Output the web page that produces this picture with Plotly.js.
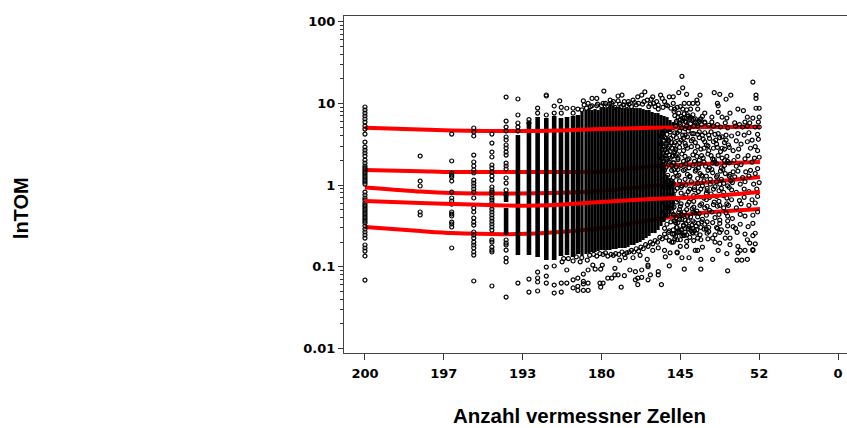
<!DOCTYPE html>
<html><head><meta charset="utf-8">
<script src="https://cdn.plot.ly/plotly-3.0.1.min.js"></script>
<style>html,body{margin:0;padding:0;background:#fff}#c{width:847px;height:428px}</style>
</head><body><div id="c"></div>
<script>
// x = ordinal position on the "Anzahl vermessner Zellen" scale, y = log10(TOM)
const xTickPos=[0,1,2,3,4,5,6];
const xTickText=['200','197','193','180','145','52','0'];
const yTickVals=[100,10,1,0.1,0.01];
const yTickText=['100','10','1','0.1','0.01'];
const yMinor=[2,3,4,5,6,7,8,9,20,30,40,50,60,70,80,90,0.2,0.3,0.4,0.5,0.6,0.7,0.8,0.9,0.02,0.03,0.04,0.05,0.06,0.07,0.08,0.09];

const lineX=[0,0.70,1.10,1.94,2.47,2.99,3.62,4.25,5.01];
const q95=[0.70,0.68,0.667,0.66,0.667,0.685,0.70,0.71,0.71];
const q75=[0.184,0.17,0.159,0.159,0.16,0.165,0.225,0.257,0.282];
const q50=[-0.03,-0.08,-0.098,-0.104,-0.095,-0.073,-0.012,0.024,0.098];
const q25=[-0.196,-0.22,-0.233,-0.253,-0.24,-0.208,-0.171,-0.147,-0.086];
const q05=[-0.514,-0.563,-0.588,-0.600,-0.575,-0.53,-0.43,-0.343,-0.294];

const colRanks=[0,0.70,1.10,1.38,1.61,1.79,1.94,2.08,2.19,2.30,2.40];
const colLogs=[
[.955,.918,.881,.845,.808,.771,.722,.685,.624,.526,.465,.428,.392,.355,.306,.269,.233,.208,.184,.159,.135,.110,.086,.061,.037,.012,-.086,-.122,-.159,-.184,-.220,-.245,-.269,-.294,-.318,-.343,-.367,-.392,-.416,-.441,-.465,-.502,-.539,-.575,-.612,-.649,-.734,-.771,-.808,-.869,-1.163],
[.355,.049,-.012,-.33,-.367],
[.624,.294,.147,.122,.098,.049,-.086,-.159,-.196,-.233,-.33,-.355,-.379,-.453,-.477,-.514,-.771],
[.698,.649,.6,.367,.282,.233,.184,.147,.061,.024,-.012,-.049,-.086,-.159,-.282,-.33,-.404,-.453,-.49,-.575,-.612,-.649,-.698,-.734,-.771,-.82,-.857,-1.175],
[.624,.514,.404,.343,.245,.208,.159,.11,.061,-.024,-.061,-.086,-.122,-.159,-.184,-.22,-.257,-.294,-.33,-.367,-.404,-.441,-.477,-.514,-.551,-.673,-.698,-.759,-.796,-.82,-1.236],
[1.077,.783,.71,.661,.588,.551,.49,.453,.404,.367,.269,.233,.196,.086,.024,-.061,-.122,-.673,-.71,-.734,-.796,-.894,-.942,-1.371],
[1.053,.857,.759,.71,.661,-1.2],
[.80,.76,-1.151,-1.31],
[.942,.881,-1.065,-1.138,-1.187,-1.297],
[1.102,1.09,.857,-1.004,-1.114,-1.2],
[.967,.881,-.991,-1.224,-1.322]
];

const stripeRanks=[1.79,1.79,1.94,2.08,2.19,2.30,2.40,2.486,2.563,2.639,2.702,2.753,2.803,2.842,2.880,2.918,2.956,2.994,3.032,3.070,3.108,3.146,3.184,3.222,3.260,3.298,3.336,3.374,3.412,3.450,3.489,3.527,3.565,3.603,3.641,3.679,3.717,3.755,3.793,3.793,3.831,3.831,3.869,3.869,3.907,3.907];
const stripeHi=[-.086,-.282,.612,.771,.832,.82,.845,.82,.832,.845,.857,.894,.918,.93,.918,.93,.918,.942,.955,.942,.967,.967,.955,.955,.942,.942,.942,.942,.942,.942,.942,.93,.918,.918,.894,.881,.881,.857,.845,.245,.832,.122,.796,.086,.771,.061];
const stripeLo=[-.208,-.612,-.857,-.857,-.881,-.918,-.918,-.869,-.857,-.881,-.845,-.869,-.845,-.832,-.82,-.82,-.808,-.796,-.796,-.796,-.796,-.783,-.783,-.771,-.771,-.771,-.759,-.734,-.734,-.71,-.698,-.673,-.649,-.624,-.588,-.588,-.551,-.502,.612,-.453,.636,-.404,.649,-.355,.673,-.306];

const topX=[4.02,4.03,3.98,4.08,3.91,3.86,3.55,3.03,3.26,3.21,2.94,2.88,2.77,2.47,3.51,3.46,3.40,3.65,3.75,3.77,3.11,3.21,3.29,3.34,3.02,2.83,2.88,2.94,3.13,3.58,3.63,3.70,3.80,3.91,4.05,4.11,4.16,4.22,2.56,2.64,2.70,2.49,2.64,2.49,2.78,3.08,3.17,3.25,3.32,3.38,3.44,3.52,3.60,3.68,3.72,3.78,3.84,3.88,3.93,3.96,4.00,4.03,2.95,3.00,3.05,3.10,3.15,3.23,3.28,3.35,3.42,3.47,3.54,3.62,3.66,3.72,3.82,2.86,2.81,2.75];
const topY=[1.33,1.19,1.13,1.11,1.08,1.08,1.14,1.15,1.10,1.09,1.06,1.06,1.03,1.03,1.10,1.08,1.04,1.08,1.10,1.06,1.04,1.03,1.02,1.02,1.00,1.00,.97,.97,1.00,1.04,1.05,1.02,1.02,1.00,1.00,1.00,1.00,1.00,.94,.94,.93,.95,.88,.88,.98,.97,.95,.96,.97,.96,.98,.99,.96,.96,.93,.95,.97,.94,.93,.95,.96,.93,.99,.97,1.00,.99,1.02,.99,.98,.99,1.01,1.00,1.02,.99,1.00,.98,.98,.96,.94,.92];

const rightX=[4.92,4.25,4.43,4.50,4.64,4.58,4.96,4.96,4.21,4.47,4.48,4.73,4.80,4.96,5.00,4.48,4.63,4.13,4.08,4.22,4.31,4.28,4.16,4.40,4.53,4.59,4.85,4.92,5.00,4.99,4.40,4.31,4.19,4.25,4.12,4.03,4.57,4.69,4.82,4.88,4.60,4.95,
3.92,3.98,4.05,4.10,4.00,4.06,3.95,4.13,4.08,4.17,4.02,4.22,4.27,4.36,4.42,4.47,4.51,4.75,4.79,4.85,5.00,4.70,
4.73,4.81,4.87,4.98,4.65,4.58,4.53,4.44,4.36,4.31,4.22,4.15,4.06,3.96,3.91,3.85,3.93,4.01,4.06,4.14,4.19,4.29,4.33,4.42,4.46,4.56,4.61,4.71,4.77,4.85,4.91,4.99,4.95,4.89,4.74,4.67,4.56,4.51,4.42,4.36,4.26,4.19,4.09,4.04,3.94,3.89,3.83,3.91,3.97,4.06,4.11,4.21,4.29,4.39,4.43,4.53,4.59,4.68,4.73,4.82,4.86,4.94,5.00,4.98,4.91,4.77,4.71,4.62,4.56,4.46,4.41,4.32,4.24,4.16,4.07,4.01,3.92,3.87,3.97,
4.98,4.89,4.83,4.73,4.67,4.57,4.51,4.41,4.35,4.25,4.19,4.09,4.04,3.94,3.89,4.95,4.87,4.79,4.69,4.62,4.52,4.46,4.38,4.28,4.22,4.12,4.06,3.96,3.91,
5.00,4.93,4.82,4.76,4.66,4.60,4.50,4.44,4.34,4.28,4.18,4.12,4.02,3.96,3.87,4.97,4.87,4.81,4.71,4.65,4.55,4.49,4.39,4.33,4.23,4.17,4.07,4.01,3.91,3.86,4.98,4.91,4.81,4.75,4.65,4.59,4.49,4.43,4.33,4.27,4.17,4.11,4.01,3.95,3.88,
4.95,4.87,4.77,4.71,4.61,4.55,4.47,4.37,4.31,4.21,4.15,4.05,3.99,3.89,
4.98,4.92,4.82,4.76,4.66,4.60,4.50,4.44,4.34,4.28,4.18,4.10,4.04,3.94,3.88,4.92,4.86,4.76,4.70,4.60,4.52,4.46,4.36,4.30,4.20,4.14,4.04,3.96,3.91];
const rightY=[1.26,1.10,1.13,1.11,1.10,1.05,1.10,1.06,1.04,1.00,.97,.93,.91,.94,.94,.89,.88,.93,.92,.93,.88,.84,.86,.83,.83,.82,.83,.82,.83,.77,.77,.76,.77,.80,.82,.82,.76,.76,.77,.76,.70,.71,
.90,.88,.87,.84,.80,.78,.76,.75,.72,.72,.70,.72,.74,.73,.72,.74,.71,.74,.71,.72,.71,.72,
.63,.61,.64,.62,.60,.61,.59,.62,.61,.64,.62,.63,.61,.64,.60,.55,.52,.55,.51,.54,.52,.56,.49,.53,.50,.52,.49,.54,.50,.53,.55,.56,.47,.45,.44,.42,.44,.41,.45,.42,.44,.41,.45,.42,.43,.45,.40,.36,.33,.35,.32,.35,.33,.36,.31,.33,.35,.30,.35,.32,.36,.33,.34,.42,.28,.25,.23,.27,.24,.26,.27,.23,.26,.24,.26,.24,.27,.30,.19,
.20,.18,.16,.17,.16,.14,.17,.15,.18,.14,.17,.13,.18,.15,.18,.14,.11,.09,.10,.11,.07,.10,.07,.11,.08,.10,.07,.11,.09,
.03,.01,.04,.01,.03,-.01,.01,-.02,-.04,-.01,-.03,-.05,-.01,-.04,-.02,-.05,-.08,-.05,-.09,-.06,-.09,-.07,-.11,-.10,-.08,-.13,-.12,-.10,-.12,-.14,-.14,-.18,-.15,-.19,-.18,-.16,-.20,-.21,-.18,-.23,-.20,-.21,-.23,-.21,-.25,
-.22,-.25,-.23,-.28,-.25,-.28,-.26,-.31,-.28,-.32,-.29,-.33,-.30,-.33,
-.33,-.37,-.38,-.36,-.41,-.38,-.43,-.40,-.45,-.42,-.46,-.44,-.49,-.46,-.45,-.47,-.51,-.48,-.53,-.50,-.55,-.52,-.57,-.54,-.59,-.56,-.61,-.58,-.55];

const denseX=[3.80,3.83,3.87,3.93,3.99,4.03,4.10,4.17,4.24,4.28,4.39,4.48,
3.80,3.84,3.95,4.04,4.09,4.16,4.24,4.31,4.37,4.45,4.50,4.58,
3.78,3.81,3.86,3.99,4.07,4.14,4.22,4.30,4.35,4.47,4.53,4.62,
3.78,3.82,3.86,3.94,4.02,4.09,4.16,4.24,4.27,4.35,4.41,4.48,4.56,
3.78,3.82,3.89,3.95,4.04,4.11,4.18,4.23,4.30,4.37,4.44,4.52,4.60,
3.80,3.84,3.92,3.98,4.06,4.12,4.20,4.27,4.33,4.40,4.47,4.54,4.63,
3.78,3.84,3.91,3.99,4.07,4.14,4.22,4.30,4.38,4.46,4.55,4.64,
3.80,3.85,3.93,4.01,4.10,4.18,4.26,4.34,4.42,4.52,4.62,
3.78,3.84,3.90,3.97,4.05,4.13,4.21,4.30,4.37,4.46,4.55,
3.80,3.83,3.92,4.00,4.09,4.17,4.25,4.34,4.42,4.50,4.59,
3.80,3.84,3.93,4.01,4.09,4.16,4.24,4.33,4.40,4.49,4.58,
3.78,3.83,3.92,3.99,4.06,4.15,4.23,4.31,4.41,4.50,4.60,
3.80,3.85,3.95,4.02,4.10,4.18,4.26,4.36,4.47,
3.82,3.86,3.93,4.02,4.08,4.17,4.26,4.35,4.44,
3.76,3.79,3.82,3.76,3.85,3.80,3.77,3.89,3.84,3.78,3.92,3.87,3.81,3.76,3.94,3.90,3.83,3.79,3.97,3.86,3.91,3.77,3.84,3.96,3.80,3.88,3.93,3.76,3.82,3.99,
3.93,3.97,4.01,4.05,4.09,4.13,4.17,3.95,3.99,4.03,4.07,4.12,4.19,4.24,3.94,4.00,4.06,4.11,4.15,4.21,4.26,4.31,
3.91,3.95,3.98,4.03,4.08,4.13,4.18,3.93,3.97,4.02,4.07,4.11,4.16,4.22,3.96,4.01,4.04,4.10,4.15,4.20,4.27,4.33,3.90,3.94,3.99,4.05];
const denseY=[.66,.62,.65,.64,.66,.61,.66,.63,.65,.61,.65,.63,
.58,.52,.58,.57,.59,.56,.58,.53,.57,.55,.58,.55,
.48,.43,.47,.46,.48,.47,.47,.45,.48,.46,.45,.46,
.37,.33,.37,.36,.38,.31,.37,.30,.36,.38,.32,.36,.30,
.28,.22,.24,.22,.29,.21,.29,.21,.28,.21,.28,.21,.29,
.18,.12,.19,.12,.19,.11,.19,.12,.11,.19,.12,.19,.13,
.06,.04,.02,.05,.00,.04,.02,.05,.01,.04,.02,.05,
-.03,-.08,-.07,-.03,-.08,-.06,-.05,-.07,-.05,-.04,-.03,
-.13,-.18,-.16,-.18,-.15,-.17,-.14,-.16,-.15,-.14,-.13,
-.22,-.28,-.27,-.26,-.24,-.27,-.25,-.26,-.24,-.25,-.23,
-.32,-.37,-.37,-.36,-.38,-.33,-.35,-.37,-.33,-.36,-.34,
-.42,-.48,-.44,-.42,-.43,-.49,-.47,-.48,-.46,-.47,-.44,
-.53,-.58,-.52,-.55,-.53,-.56,-.52,-.52,-.53,
-.64,-.68,-.66,-.62,-.69,-.68,-.67,-.66,-.70,
.59,.55,.57,.50,.54,.47,.43,.52,.45,.39,.49,.41,.36,.33,.44,.35,.40,.29,.31,.28,.27,.25,.31,.38,.26,.57,.41,.60,.50,.52,
.85,.83,.84,.82,.86,.83,.80,.78,.76,.79,.77,.80,.81,.78,.72,.74,.69,.70,.79,.75,.81,.77,
-.36,-.40,-.33,-.37,-.30,-.39,-.34,-.44,-.46,-.42,-.47,-.51,-.44,-.39,-.52,-.55,-.50,-.54,-.58,-.50,-.45,-.54,-.60,-.63,-.57,-.62];

const bottomX=[2.56,2.49,2.56,2.64,2.70,2.77,2.83,2.92,2.99,2.73,2.82,2.89,2.50,2.64,3.01,3.17,3.36,3.43,3.51,3.59,3.72,3.72,3.86,4.05,3.58,3.81,4.02,4.11,4.19,4.22,2.49,2.64,2.70,2.77,2.77,2.83,2.83,2.77,2.70,2.98,3.02,2.99,3.08,3.13,3.17,3.21,3.29,3.25,3.43,3.46,3.51,3.59,3.62,3.46,3.76,3.59,3.23,3.30,3.40,3.49,3.65,3.72,3.80,3.96,3.87,3.91,4.00,4.08,4.16,4.21,2.90,2.98,3.05,3.12,3.18,3.26,3.32,3.38,3.44,3.50,3.56,3.62,3.68,3.74,3.80,3.86,3.92,3.98,
4.60,4.26,4.41,4.26,4.72,4.78,4.85,4.59,4.48,4.92,4.92,4.82,4.73,4.76,4.28,4.00,4.08,3.96,4.88,4.95,4.85,4.95,4.92,4.82,4.73,4.63,4.50,4.41,4.57,4.63,4.72,4.67,4.59,4.50,4.44,4.34,4.25,4.16,4.06,3.96,3.89,4.12,4.22,
2.85,2.94,3.02,3.08,3.15,3.22,3.29,3.35,3.41,3.47,3.53,3.59,3.65,3.71,3.77,2.68,2.75,2.58,2.52];
const bottomY=[-1.04,-1.20,-1.20,-1.16,-1.14,-1.09,-1.04,-1.03,-1.03,-.94,-.92,-.98,-.94,-.93,-.98,-1.02,-1.04,-1.06,-1.04,-1.00,-1.06,-1.10,-.99,-1.03,-.91,-.88,-.89,-.89,-.80,-.80,-1.31,-1.26,-1.24,-1.21,-1.18,-1.20,-1.29,-1.29,-1.29,-1.20,-1.20,-1.25,-1.14,-1.14,-1.10,-1.10,-1.11,-1.25,-1.16,-1.14,-1.13,-1.16,-1.10,-1.22,-1.22,-.98,-.92,-.89,-.89,-.86,-.80,-.77,-.80,-.82,-.83,-.70,-.67,-.61,-.59,-.55,-.85,-.84,-.83,-.85,-.84,-.82,-.83,-.80,-.78,-.76,-.73,-.70,-.68,-.64,-.60,-.56,-.60,-.58,
-1.05,-1.03,-.91,-.91,-.92,-.92,-.91,-.84,-.80,-.80,-.79,-.80,-.83,-.80,-.76,-.75,-.75,-.83,-.71,-.72,-.67,-.59,-.62,-.60,-.75,-.73,-.71,-.65,-.65,-.65,-.58,-.51,-.58,-.58,-.61,-.59,-.61,-.53,-.58,-.67,-.70,-.64,-.65,
-.86,-.87,-.85,-.87,-.86,-.85,-.85,-.82,-.82,-.81,-.78,-.75,-.72,-.70,-.66,-.88,-.89,-.90,-.90];

const toTom=a=>a.map(v=>v===null?null:Math.pow(10,v));
const red=(ys,w)=>({type:'scatter',mode:'lines',x:lineX,y:toTom(ys),line:{color:'#ff0000',width:w||4,shape:'spline',smoothing:0.6},hoverinfo:'skip'});

const sxL=[],syL=[],sxD=[],syD=[];
stripeRanks.forEach((r,i)=>{
  if(r<2.75){sxL.push(r,r,null);syL.push(stripeHi[i],stripeLo[i],null);}
  else{sxD.push(r,r,null);syD.push(stripeHi[i],stripeLo[i],null);}
});
const cx=[],cy=[];
colRanks.forEach((r,i)=>colLogs[i].forEach(v=>{cx.push(r);cy.push(v);}));
const px=cx.concat(topX,rightX,denseX,bottomX), py=cy.concat(topY,rightY,denseY,bottomY);

const traces=[
 red(q75),red(q50),red(q05),
 {type:'scatter',mode:'lines',x:sxL,y:toTom(syL),connectgaps:false,line:{color:'#000',width:4.6},hoverinfo:'skip'},
 {type:'scatter',mode:'lines',x:sxD,y:toTom(syD),connectgaps:false,line:{color:'#000',width:3.2},hoverinfo:'skip'},
 red(q95),
 {type:'scatter',mode:'markers',x:px,y:toTom(py),marker:{symbol:'circle-open',size:4,color:'#000',line:{width:1.2,color:'#000'}},hoverinfo:'skip'},
 red(q25)
];
const layout={
 width:847,height:428,showlegend:false,paper_bgcolor:'#fff',plot_bgcolor:'#fff',
 margin:{l:344,r:0,t:16,b:75},
 font:{family:'"DejaVu Sans",sans-serif',color:'#000'},
 xaxis:{range:[-0.266,6.114],tickmode:'array',tickvals:xTickPos,ticktext:xTickText,ticks:'outside',ticklen:6,tickwidth:1,tickcolor:'#333',
  showgrid:false,zeroline:false,showline:true,linecolor:'#444',linewidth:1,mirror:true,tickangle:0,ticklabelstandoff:2,
  tickfont:{family:'"DejaVu Sans",sans-serif',size:13,weight:'bold',color:'#000'}},
 yaxis:{type:'log',range:[-2.056,2.069],tickmode:'array',tickvals:yTickVals,ticktext:yTickText,ticks:'outside',ticklen:5,tickwidth:1,tickcolor:'#333',
  showgrid:false,zeroline:false,showline:true,linecolor:'#444',linewidth:1,mirror:false,
  minor:{tickmode:'array',tickvals:yMinor,ticks:'outside',ticklen:3,tickwidth:1,tickcolor:'#333',showgrid:false},
  tickfont:{family:'"DejaVu Sans",sans-serif',size:13,weight:'bold',color:'#000'}},
 annotations:[
  {xref:'paper',yref:'paper',x:-0.642,y:0.43,xanchor:'center',yanchor:'middle',showarrow:false,textangle:-90,
   text:'<b>lnTOM</b>',font:{family:'"Liberation Sans",sans-serif',size:20,color:'#000'}},
  {xref:'paper',yref:'paper',x:0.469,y:-0.186,xanchor:'center',yanchor:'middle',showarrow:false,
   text:'<b>Anzahl vermessner Zellen</b>',font:{family:'"Liberation Sans",sans-serif',size:20.5,color:'#000'}}]
};
Plotly.newPlot('c',traces,layout,{displayModeBar:false,staticPlot:true});
</script></body></html>
